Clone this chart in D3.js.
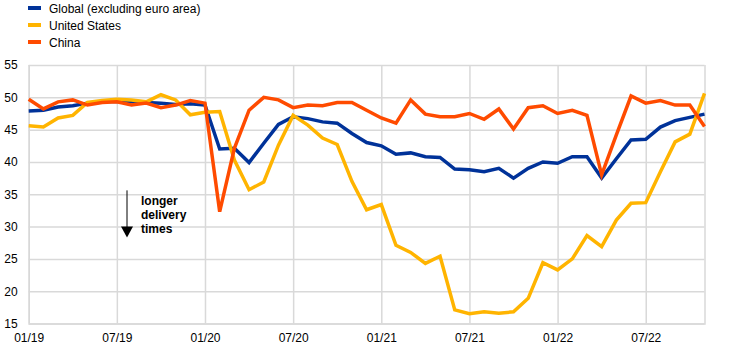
<!DOCTYPE html>
<html><head><meta charset="utf-8">
<script src="https://cdn.jsdelivr.net/npm/d3@7"></script>
<style>body{margin:0;background:#fff}svg{display:block;font-family:"Liberation Sans",Arial,sans-serif}</style>
</head><body><svg id="c" width="744" height="361"></svg>
<script>
const tickLabels = ["01/19","07/19","01/20","07/20","01/21","07/21","01/22","07/22"];
const seriesNames = ["Global (excluding euro area)","United States","China"];
const seriesColors = ["#003299","#FFB400","#FF4B00"];
const globalVals = [47.9,48.0,48.5,48.7,49.1,49.3,49.4,49.3,49.2,49.1,48.9,49.0,48.8,42.0,42.1,39.9,42.9,45.8,47.0,46.7,46.2,46.0,44.4,43.0,42.5,41.2,41.4,40.8,40.7,38.9,38.8,38.5,39.0,37.5,39.0,40.0,39.8,40.8,40.8,37.5,40.5,43.4,43.5,45.4,46.4,46.9,47.4];
const usVals = [45.6,45.4,46.8,47.2,49.2,49.5,49.7,49.6,49.3,50.4,49.6,47.3,47.7,47.8,40.3,35.7,36.9,42.6,47.2,45.7,43.7,42.7,37.0,32.6,33.4,27.1,26.0,24.3,25.4,17.1,16.5,16.8,16.6,16.8,18.9,24.4,23.3,25.0,28.6,26.9,31.0,33.6,33.7,38.5,43.1,44.3,50.6];
const chinaVals = [49.7,48.2,49.3,49.6,48.8,49.2,49.3,48.8,49.1,48.4,48.8,49.5,49.1,32.3,42.1,48.0,50.0,49.6,48.4,48.8,48.7,49.2,49.2,48.0,46.8,46.0,49.6,47.4,47.0,47.0,47.5,46.6,48.2,45.1,48.4,48.7,47.5,48.0,47.2,38.0,44.2,50.2,49.1,49.5,48.8,48.8,45.5];
const yTicks = [15,20,25,30,35,40,45,50,55];
const annotation = ["longer","delivery","times"];

const svg = d3.select("#c");
const x = d3.scaleLinear().domain([0, globalVals.length-1]).range([28.7, 704.5]);
const y = d3.scaleLinear().domain([15,55]).range([323.5,65]);
const grid = "#d9d9d9";

// horizontal grid
const yAxis = d3.axisLeft(y).tickValues(yTicks).tickSize(-(704.5-28.7)).tickPadding(11);
const gy = svg.append("g").attr("transform","translate(28.7,0)").call(yAxis);
gy.select(".domain").remove();
gy.selectAll("line").attr("stroke",grid).attr("stroke-width",1.5);
gy.selectAll("text").attr("font-size",12).attr("fill","#000").attr("font-family","Liberation Sans, Arial, sans-serif");

// vertical grid
const xAxis = d3.axisBottom(x).tickValues(tickLabels.map((d,i)=>i*6)).tickFormat((d,i)=>tickLabels[i]).tickSize(-(323.5-65)).tickPadding(10);
const gx = svg.append("g").attr("transform","translate(0,323.5)").call(xAxis);
gx.select(".domain").attr("stroke",grid).attr("stroke-width",1.5);
gx.selectAll("line").attr("stroke",grid).attr("stroke-width",1.5);
gx.selectAll("text").attr("font-size",12).attr("fill","#000").attr("font-family","Liberation Sans, Arial, sans-serif");

const line = d3.line().x((d,i)=>x(i)).y(d=>y(d));
[globalVals, usVals, chinaVals].forEach((vals,k)=>{
  svg.append("path").datum(vals).attr("d",line).attr("fill","none")
    .attr("stroke",seriesColors[k]).attr("stroke-width",3.5).attr("stroke-linejoin","miter");
});

// legend
seriesNames.forEach((n,i)=>{
  const yy = 8 + i*17;
  svg.append("rect").attr("x",28).attr("y",yy-2).attr("width",13).attr("height",4).attr("fill",seriesColors[i]);
  svg.append("text").attr("x",49).attr("y",yy+4.5).attr("font-size",12).attr("fill","#000").text(n);
});

// annotation arrow
svg.append("line").attr("x1",127).attr("x2",127).attr("y1",y(35.6)).attr("y2",y(29.5)).attr("stroke","#000").attr("stroke-width",1);
svg.append("path").attr("d",`M121,${y(30)} L133,${y(30)} L127,${y(28.3)} Z`).attr("fill","#000");
annotation.forEach((t,i)=>{
  svg.append("text").attr("x",141).attr("y",204.5+i*14.3).attr("font-size",12).attr("font-weight","bold").attr("fill","#000").text(t);
});
</script></body></html>
